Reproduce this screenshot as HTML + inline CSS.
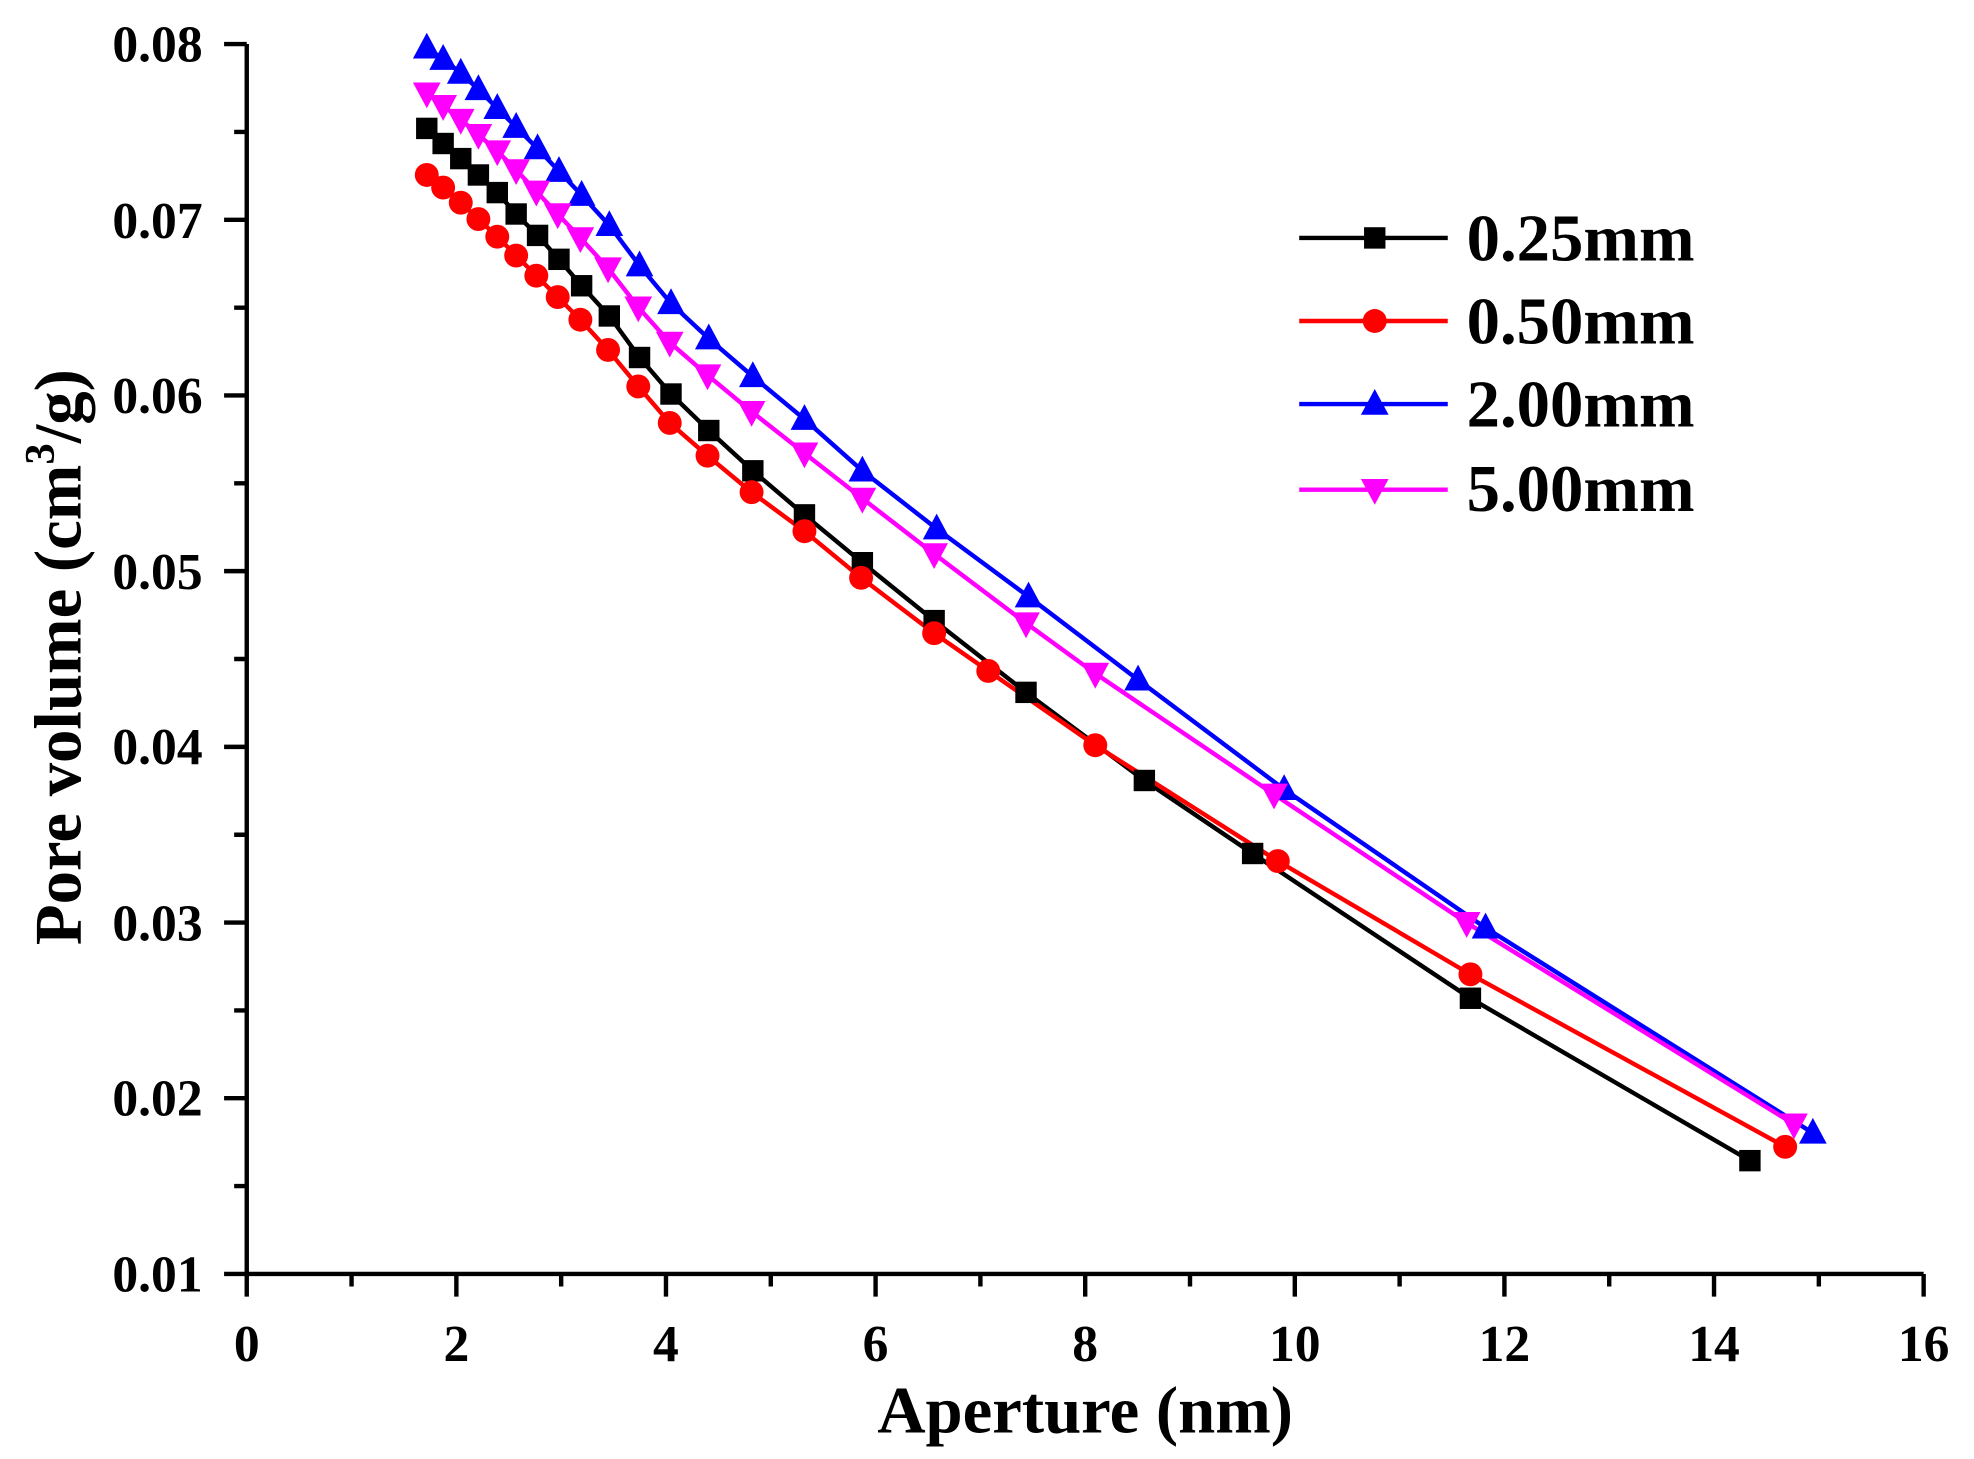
<!DOCTYPE html>
<html><head><meta charset="utf-8"><style>
html,body{margin:0;padding:0;background:#fff;}
svg{display:block;}
text{font-family:"Liberation Serif",serif;font-weight:bold;fill:#000;}
</style></head><body>
<svg width="1974" height="1459" viewBox="0 0 1568 1159" preserveAspectRatio="none" xmlns="http://www.w3.org/2000/svg">
<defs>
<rect id="sq" x="-8.5" y="-8.5" width="17" height="17" fill="#000"/>
<circle id="ci" r="9.5" fill="#f00"/>
<polygon id="tu" points="0,-12 11,8.5 -11,8.5" fill="#00f"/>
<polygon id="td" points="0,12 11,-8.5 -11,-8.5" fill="#f0f"/>
</defs>
<g stroke="#000" stroke-width="3.5" fill="none">
<path d="M196,35 V1012 H1528"/>
<path d="M178,35H196 M178,174.6H196 M178,314.1H196 M178,453.7H196 M178,593.3H196 M178,732.9H196 M178,872.4H196 M178,1012H196"/>
<path d="M186,104.8H196 M186,244.4H196 M186,383.9H196 M186,523.5H196 M186,663.1H196 M186,802.7H196 M186,942.2H196"/>
<path d="M196,1012V1030 M362.5,1012V1030 M529,1012V1030 M695.5,1012V1030 M862,1012V1030 M1028.5,1012V1030 M1195,1012V1030 M1361.5,1012V1030 M1528,1012V1030"/>
<path d="M279.25,1012V1022 M445.75,1012V1022 M612.25,1012V1022 M778.75,1012V1022 M945.25,1012V1022 M1111.75,1012V1022 M1278.25,1012V1022 M1444.75,1012V1022"/>
</g>
<g font-size="41" text-anchor="end">
<text x="161" y="49">0.08</text><text x="161" y="189">0.07</text><text x="161" y="328">0.06</text><text x="161" y="468">0.05</text><text x="161" y="607">0.04</text><text x="161" y="747">0.03</text><text x="161" y="886">0.02</text><text x="161" y="1026">0.01</text>
</g>
<g font-size="41" text-anchor="middle">
<text x="196" y="1081">0</text><text x="362.5" y="1081">2</text><text x="529" y="1081">4</text><text x="695.5" y="1081">6</text><text x="862" y="1081">8</text><text x="1028.5" y="1081">10</text><text x="1195" y="1081">12</text><text x="1361.5" y="1081">14</text><text x="1528" y="1081">16</text>
</g>
<text x="862" y="1138" font-size="53" text-anchor="middle">Aperture (nm)</text>
<text transform="translate(64,522) rotate(-90)" font-size="53" text-anchor="middle">Pore volume (cm<tspan font-size="34" dy="-21">3</tspan><tspan dy="21">/g)</tspan></text>
<polyline fill="none" stroke="#000" stroke-width="3.5" points="339,102 352,114 366,126 380,139 395,153 410,170 427,187 444,206 462,227 484,251 508,284 533,313 563,342 598,374 639,409 685,447 742,493 815,550 909,620 995,678 1168,793 1390,922"/>
<polyline fill="none" stroke="#f00" stroke-width="3.5" points="339,139 352,149 366,161 380,174 395,188 410,203 426,219 443,236 461,254 483,278 507,307 532,336 562,362 597,391 639,422 684,459 742,503 785,533 870,592 1015,684 1168,774 1418,911"/>
<polyline fill="none" stroke="#00f" stroke-width="3.5" points="339,38 352,47 366,58 380,71 395,86 410,101 427,118 444,136 462,155 484,179 508,211 533,241 563,269 598,299 639,333 685,374 744,420 817,474 904,540 1020,627 1180,737 1440,900"/>
<polyline fill="none" stroke="#f0f" stroke-width="3.5" points="339,74 352,84 366,95 380,107 395,120 410,135 426,152 443,170 461,189 483,213 507,244 532,272 562,298 597,327 639,360 685,396 742,440 815,495 870,535 1012,631 1165,733 1425,893"/>
<g>
<use href="#sq" x="339" y="102"/><use href="#sq" x="352" y="114"/><use href="#sq" x="366" y="126"/><use href="#sq" x="380" y="139"/><use href="#sq" x="395" y="153"/><use href="#sq" x="410" y="170"/><use href="#sq" x="427" y="187"/><use href="#sq" x="444" y="206"/><use href="#sq" x="462" y="227"/><use href="#sq" x="484" y="251"/><use href="#sq" x="508" y="284"/><use href="#sq" x="533" y="313"/><use href="#sq" x="563" y="342"/><use href="#sq" x="598" y="374"/><use href="#sq" x="639" y="409"/><use href="#sq" x="685" y="447"/><use href="#sq" x="742" y="493"/><use href="#sq" x="815" y="550"/><use href="#sq" x="909" y="620"/><use href="#sq" x="995" y="678"/><use href="#sq" x="1168" y="793"/><use href="#sq" x="1390" y="922"/>
<use href="#ci" x="339" y="139"/><use href="#ci" x="352" y="149"/><use href="#ci" x="366" y="161"/><use href="#ci" x="380" y="174"/><use href="#ci" x="395" y="188"/><use href="#ci" x="410" y="203"/><use href="#ci" x="426" y="219"/><use href="#ci" x="443" y="236"/><use href="#ci" x="461" y="254"/><use href="#ci" x="483" y="278"/><use href="#ci" x="507" y="307"/><use href="#ci" x="532" y="336"/><use href="#ci" x="562" y="362"/><use href="#ci" x="597" y="391"/><use href="#ci" x="639" y="422"/><use href="#ci" x="684" y="459"/><use href="#ci" x="742" y="503"/><use href="#ci" x="785" y="533"/><use href="#ci" x="870" y="592"/><use href="#ci" x="1015" y="684"/><use href="#ci" x="1168" y="774"/><use href="#ci" x="1418" y="911"/>
<use href="#tu" x="339" y="38"/><use href="#tu" x="352" y="47"/><use href="#tu" x="366" y="58"/><use href="#tu" x="380" y="71"/><use href="#tu" x="395" y="86"/><use href="#tu" x="410" y="101"/><use href="#tu" x="427" y="118"/><use href="#tu" x="444" y="136"/><use href="#tu" x="462" y="155"/><use href="#tu" x="484" y="179"/><use href="#tu" x="508" y="211"/><use href="#tu" x="533" y="241"/><use href="#tu" x="563" y="269"/><use href="#tu" x="598" y="299"/><use href="#tu" x="639" y="333"/><use href="#tu" x="685" y="374"/><use href="#tu" x="744" y="420"/><use href="#tu" x="817" y="474"/><use href="#tu" x="904" y="540"/><use href="#tu" x="1020" y="627"/><use href="#tu" x="1180" y="737"/><use href="#tu" x="1440" y="900"/>
<use href="#td" x="339" y="74"/><use href="#td" x="352" y="84"/><use href="#td" x="366" y="95"/><use href="#td" x="380" y="107"/><use href="#td" x="395" y="120"/><use href="#td" x="410" y="135"/><use href="#td" x="426" y="152"/><use href="#td" x="443" y="170"/><use href="#td" x="461" y="189"/><use href="#td" x="483" y="213"/><use href="#td" x="507" y="244"/><use href="#td" x="532" y="272"/><use href="#td" x="562" y="298"/><use href="#td" x="597" y="327"/><use href="#td" x="639" y="360"/><use href="#td" x="685" y="396"/><use href="#td" x="742" y="440"/><use href="#td" x="815" y="495"/><use href="#td" x="870" y="535"/><use href="#td" x="1012" y="631"/><use href="#td" x="1165" y="733"/><use href="#td" x="1425" y="893"/>
</g>
<g stroke-width="3.5">
<line x1="1032" y1="189" x2="1150" y2="189" stroke="#000"/><use href="#sq" x="1092" y="189"/>
<line x1="1032" y1="255" x2="1150" y2="255" stroke="#f00"/><use href="#ci" x="1092" y="255"/>
<line x1="1032" y1="321" x2="1150" y2="321" stroke="#00f"/><use href="#tu" x="1092" y="321"/>
<line x1="1032" y1="389" x2="1150" y2="389" stroke="#f0f"/><use href="#td" x="1092" y="389"/>
</g>
<g font-size="53">
<text x="1165" y="207">0.25mm</text><text x="1165" y="273">0.50mm</text><text x="1165" y="339">2.00mm</text><text x="1165" y="406">5.00mm</text>
</g>
</svg>
</body></html>
